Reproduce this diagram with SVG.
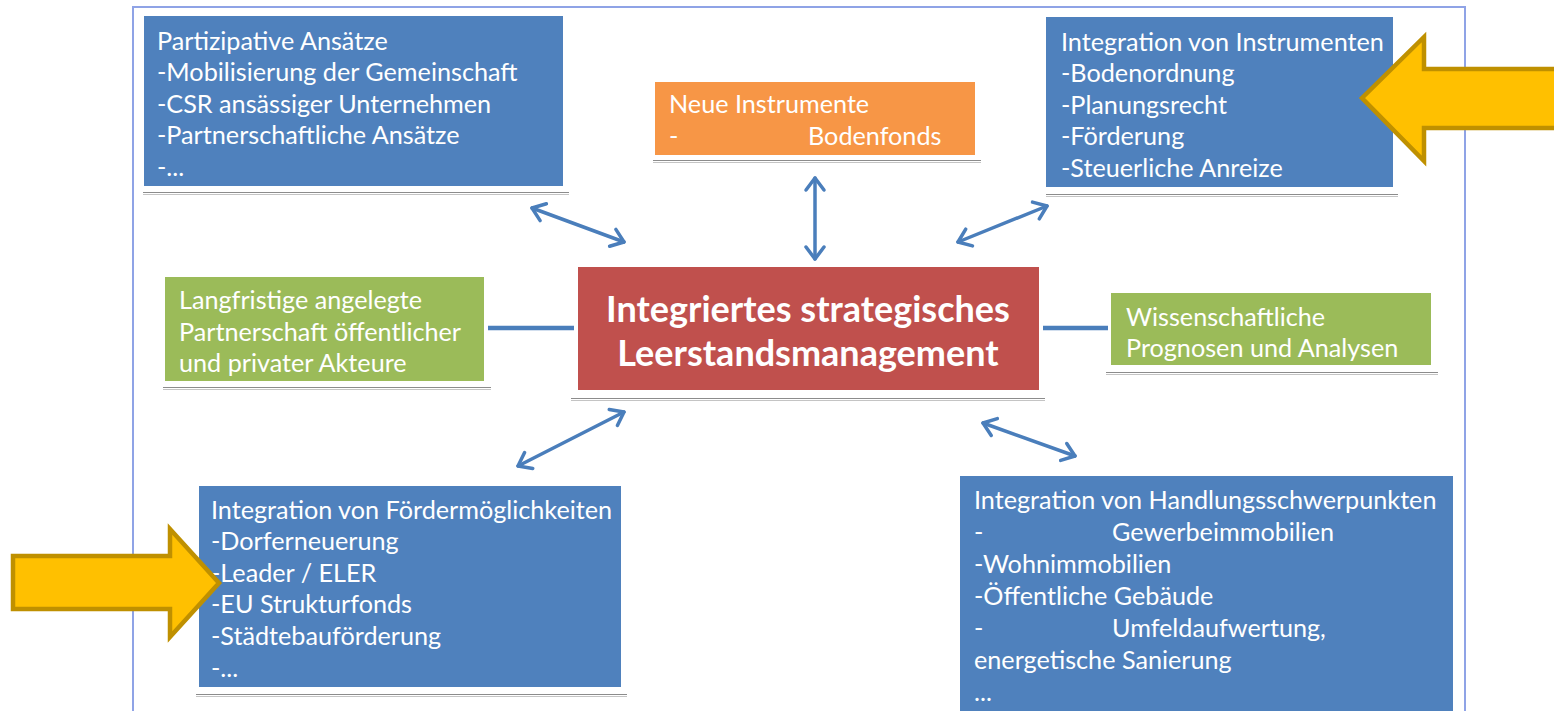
<svg xmlns="http://www.w3.org/2000/svg" width="1554" height="711" viewBox="0 0 1554 711">
  <defs>
    <style>
      .txt { font-family: Lato, "Liberation Sans", sans-serif; font-size: 25.2px; fill: #ffffff; }
      .title { font-family: Lato, "Liberation Sans", sans-serif; font-size: 36px; font-weight: bold; fill: #ffffff; text-anchor: middle; }
      .blue { fill: #4F81BD; }
      .orange { fill: #F79646; }
      .red { fill: #C0504D; }
      .green { fill: #9BBB59; }
      .shadow1 { stroke: #8c8c8c; stroke-width: 1.2; }
      .shadow2 { stroke: #c4c4c4; stroke-width: 1.2; }
      .link { stroke: #4A7EBB; stroke-width: 4.5; fill: none; }
      .dbl { stroke: #4A7EBB; stroke-width: 3.5; fill: none; stroke-linecap: round; marker-start: url(#chev); marker-end: url(#chev); }
      .callout { fill: #FFC000; stroke: #BF9000; stroke-width: 4.5; stroke-linejoin: miter; }
    </style>
    <marker id="chev" viewBox="-16 -12 20 24" markerUnits="userSpaceOnUse" markerWidth="20" markerHeight="24" refX="0" refY="0" orient="auto-start-reverse">
      <path d="M-12,-9 L0,0 L-12,9" fill="none" stroke="#4A7EBB" stroke-width="3.5" stroke-linecap="round" stroke-linejoin="round"/>
    </marker>
  </defs>

  <rect width="1554" height="711" fill="#ffffff"/>

  <!-- outer frame -->
  <rect x="133" y="7" width="1332" height="720" fill="none" stroke="#8FA3E6" stroke-width="2"/>

  <!-- connectors -->
  <g id="connectors">
    <line class="link" x1="488" y1="328" x2="574" y2="328"/>
    <line class="link" x1="1043" y1="328" x2="1108" y2="328"/>
    <line class="dbl" x1="532" y1="208" x2="624" y2="242"/>
    <line class="dbl" x1="815" y1="178" x2="815" y2="259"/>
    <line class="dbl" x1="958" y1="242" x2="1047" y2="206"/>
    <line class="dbl" x1="624" y1="412" x2="518" y2="466"/>
    <line class="dbl" x1="983" y1="423" x2="1075" y2="456"/>
  </g>

  <!-- participative approaches -->
  <g id="node-partizipativ">
    <rect class="blue" x="144" y="16" width="419" height="170"/>
    <line class="shadow1" x1="143" y1="192.5" x2="569" y2="192.5"/>
    <line class="shadow2" x1="143" y1="194.5" x2="569" y2="194.5"/>
    <text class="txt" x="157" y="50">Partizipative Ansätze</text>
    <text class="txt" x="157" y="81">-Mobilisierung der Gemeinschaft</text>
    <text class="txt" x="157" y="113">-CSR ansässiger Unternehmen</text>
    <text class="txt" x="157" y="144">-Partnerschaftliche Ansätze</text>
    <text class="txt" x="157" y="176">-...</text>
  </g>

  <!-- new instruments -->
  <g id="node-neue-instrumente">
    <rect class="orange" x="655" y="82" width="320" height="73"/>
    <line class="shadow1" x1="653" y1="160.5" x2="981" y2="160.5"/>
    <line class="shadow2" x1="653" y1="162.5" x2="981" y2="162.5"/>
    <text class="txt" x="669" y="113">Neue Instrumente</text>
    <text class="txt" x="669" y="145">-</text>
    <text class="txt" x="808" y="145">Bodenfonds</text>
  </g>

  <!-- integration of instruments -->
  <g id="node-instrumente">
    <rect class="blue" x="1046" y="17" width="347" height="170"/>
    <line class="shadow1" x1="1046" y1="194.5" x2="1398" y2="194.5"/>
    <line class="shadow2" x1="1046" y1="196.5" x2="1398" y2="196.5"/>
    <text class="txt" x="1061" y="51">Integration von Instrumenten</text>
    <text class="txt" x="1061" y="82">-Bodenordnung</text>
    <text class="txt" x="1061" y="114">-Planungsrecht</text>
    <text class="txt" x="1061" y="145">-Förderung</text>
    <text class="txt" x="1061" y="177">-Steuerliche Anreize</text>
  </g>

  <!-- central node -->
  <g id="node-zentrum">
    <rect class="red" x="578" y="267" width="461" height="123"/>
    <line class="shadow1" x1="571" y1="398.5" x2="1045" y2="398.5"/>
    <line class="shadow2" x1="571" y1="400.5" x2="1045" y2="400.5"/>
    <text class="title" x="808" y="322">Integriertes strategisches</text>
    <text class="title" x="808" y="366">Leerstandsmanagement</text>
  </g>

  <!-- long-term partnership -->
  <g id="node-partnerschaft">
    <rect class="green" x="165" y="277" width="319" height="104"/>
    <line class="shadow1" x1="163" y1="387.5" x2="491" y2="387.5"/>
    <line class="shadow2" x1="163" y1="389.5" x2="491" y2="389.5"/>
    <text class="txt" x="179" y="309">Langfristige angelegte</text>
    <text class="txt" x="179" y="341">Partnerschaft öffentlicher</text>
    <text class="txt" x="179" y="372">und privater Akteure</text>
  </g>

  <!-- scientific forecasts -->
  <g id="node-prognosen">
    <rect class="green" x="1111" y="293" width="320" height="72"/>
    <line class="shadow1" x1="1106" y1="372.5" x2="1438" y2="372.5"/>
    <line class="shadow2" x1="1106" y1="374.5" x2="1438" y2="374.5"/>
    <text class="txt" x="1126" y="326">Wissenschaftliche</text>
    <text class="txt" x="1126" y="357">Prognosen und Analysen</text>
  </g>

  <!-- funding options -->
  <g id="node-foerdermoeglichkeiten">
    <rect class="blue" x="199" y="486" width="422" height="201"/>
    <line class="shadow1" x1="196" y1="694.5" x2="627" y2="694.5"/>
    <line class="shadow2" x1="196" y1="696.5" x2="627" y2="696.5"/>
    <text class="txt" x="211" y="519">Integration von Fördermöglichkeiten</text>
    <text class="txt" x="211" y="550">-Dorferneuerung</text>
    <text class="txt" x="211" y="582">-Leader / ELER</text>
    <text class="txt" x="211" y="613">-EU Strukturfonds</text>
    <text class="txt" x="211" y="645">-Städtebauförderung</text>
    <text class="txt" x="211" y="677">-...</text>
  </g>

  <!-- priority fields -->
  <g id="node-handlungsschwerpunkte">
    <rect class="blue" x="960" y="476" width="493" height="240"/>
    <text class="txt" x="974" y="509">Integration von Handlungsschwerpunkten</text>
    <text class="txt" x="974" y="541">-</text>
    <text class="txt" x="1112" y="541">Gewerbeimmobilien</text>
    <text class="txt" x="974" y="573">-Wohnimmobilien</text>
    <text class="txt" x="974" y="605">-Öffentliche Gebäude</text>
    <text class="txt" x="974" y="637">-</text>
    <text class="txt" x="1112" y="637">Umfeldaufwertung,</text>
    <text class="txt" x="974" y="669">energetische Sanierung</text>
    <text class="txt" x="974" y="701">...</text>
  </g>

  <!-- highlight arrows -->
  <g id="callout-right">
    <polygon class="callout" points="1362,98 1424,37 1424,69 1562,69 1562,128 1424,128 1424,161"/>
  </g>
  <g id="callout-left">
    <polygon class="callout" points="13,556 170,556 170,529 219,583 170,637 170,609 13,609"/>
  </g>
</svg>
